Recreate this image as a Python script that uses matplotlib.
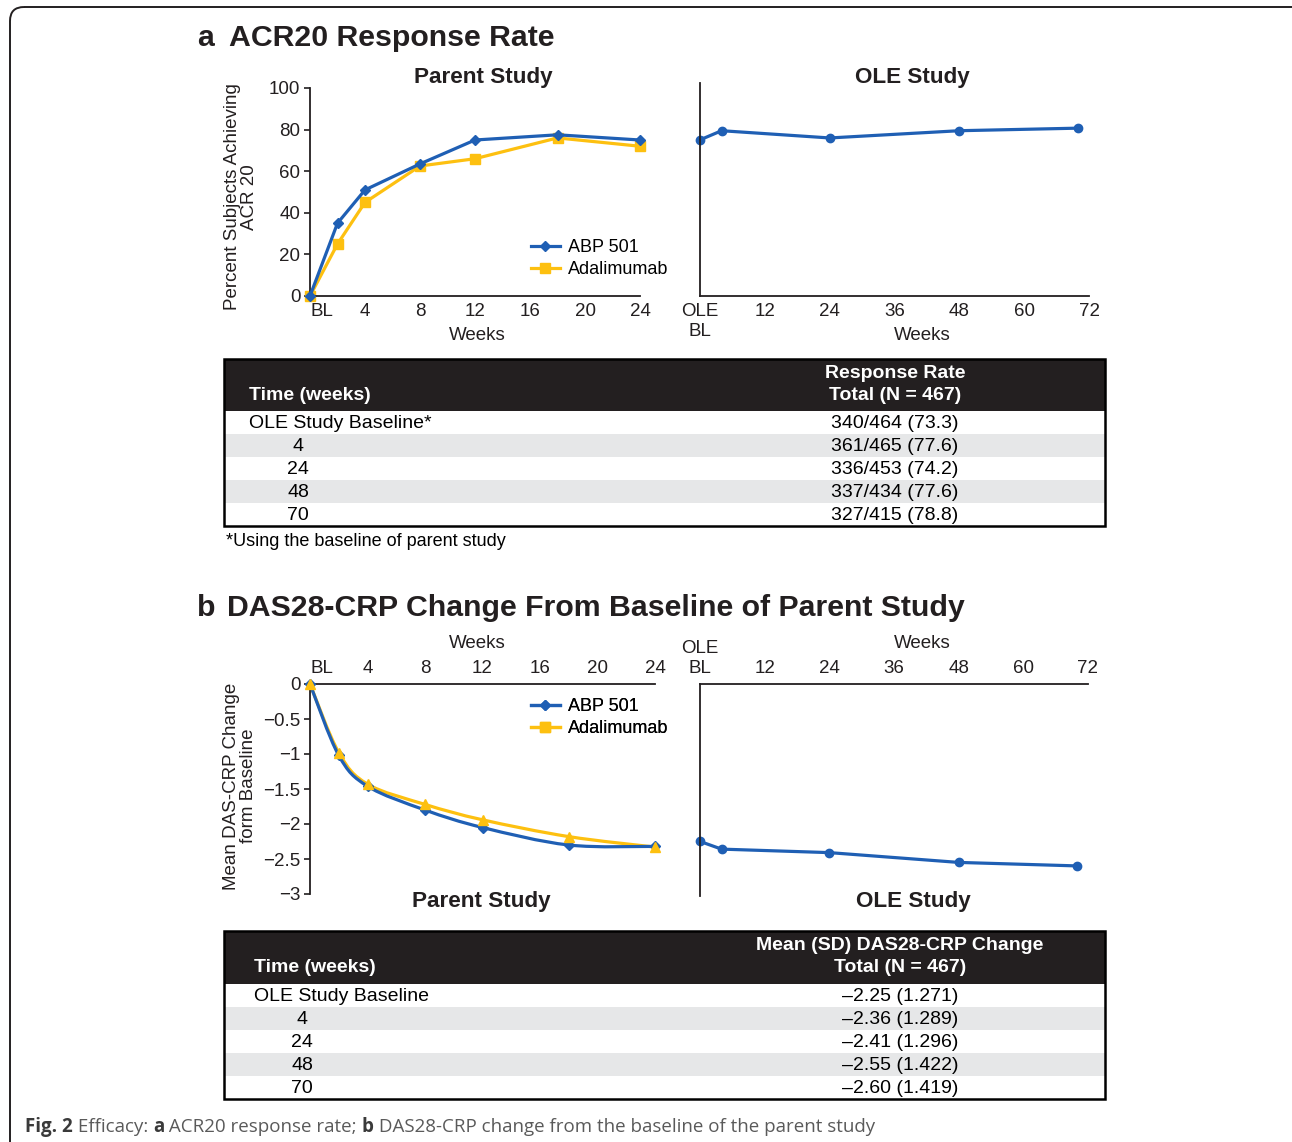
import numpy as np
import matplotlib
matplotlib.use("Agg")
import matplotlib.pyplot as plt
from matplotlib.path import Path
from matplotlib.patches import PathPatch, Rectangle, FancyBboxPatch
from matplotlib.lines import Line2D
from matplotlib.ticker import FuncFormatter

plt.rcParams['font.family'] = ['Liberation Sans', 'DejaVu Sans']

W, H = 1292, 1142
BLUE = '#1f5fb4'
YELLOW = '#fdc010'
INK = '#231f20'

# a: ACR20 response rate, parent study
parent_weeks = [0, 2, 4, 8, 12, 18, 24]
acr_abp = [0, 35, 51, 63.5, 75, 77.5, 75]
acr_ada = [0, 25, 45, 62.5, 66, 76, 72]

# a: ACR20, OLE study
ole_weeks = [0, 4, 24, 48, 70]
acr_ole = [73.3, 77.6, 74.2, 77.6, 78.8]
acr_resp = [340, 361, 336, 337, 327]
acr_total = [464, 465, 453, 434, 415]

# b: DAS28-CRP change from baseline, parent study
das_abp = [0, -1.02, -1.46, -1.80, -2.05, -2.30, -2.32]
das_ada = [0, -0.98, -1.43, -1.72, -1.94, -2.18, -2.33]

# b: DAS28-CRP, OLE study
das_ole = [-2.25, -2.36, -2.41, -2.55, -2.60]
das_ole_sd = [1.271, 1.289, 1.296, 1.422, 1.419]

row_labels_a = ['OLE Study Baseline*', '4', '24', '48', '70']
row_labels_b = ['OLE Study Baseline', '4', '24', '48', '70']

parent_ticks = [0, 4, 8, 12, 16, 20, 24]
ole_ticks = [0, 12, 24, 36, 48, 60, 72]


def box(l, t, r, b):
    return [l / W, 1 - b / H, (r - l) / W, (b - t) / H]


def smooth_line(ax, x, y, color, lw):
    # cubic bezier through the points (catmull-rom style)
    x = np.asarray(x, float)
    y = np.asarray(y, float)
    px = np.r_[x[0], x, x[-1]]
    py = np.r_[y[0], y, y[-1]]
    verts = [(x[0], y[0])]
    codes = [Path.MOVETO]
    for i in range(1, len(px) - 2):
        c1 = (px[i] + (px[i + 1] - px[i - 1]) / 6, py[i] + (py[i + 1] - py[i - 1]) / 6)
        c2 = (px[i + 1] - (px[i + 2] - px[i]) / 6, py[i + 1] - (py[i + 2] - py[i]) / 6)
        verts += [c1, c2, (px[i + 1], py[i + 1])]
        codes += [Path.CURVE4] * 3
    ax.add_patch(PathPatch(Path(verts, codes), fill=False, edgecolor=color,
                           lw=lw, clip_on=False, zorder=2))


def style_axes(ax, top=False, yticks=True):
    for s in ['right', 'top', 'bottom']:
        ax.spines[s].set_visible(False)
    ax.spines['top' if top else 'bottom'].set_visible(True)
    for s in ax.spines.values():
        s.set_linewidth(1.3)
        s.set_color(INK)
    ax.set_facecolor('none')
    if top:
        ax.xaxis.tick_top()
    ax.tick_params(axis='x', length=0, pad=5, labelsize=13.5, colors=INK)
    if yticks:
        ax.tick_params(axis='y', length=4, width=1.2, pad=3, labelsize=13.5, colors=INK)
    else:
        ax.set_yticks([])


fig = plt.figure(figsize=(W / 100, H / 100), dpi=100)
ov = fig.add_axes([0, 0, 1, 1])
ov.set_xlim(0, W)
ov.set_ylim(H, 0)
ov.axis('off')

ov.add_patch(FancyBboxPatch((10, 7), 1300, 1160, boxstyle='round,pad=0,rounding_size=14',
                            fill=False, lw=1.4, edgecolor=INK))

# panel titles
ov.text(197, 38, 'a', fontsize=21.8, fontweight='bold', va='center', color=INK)
ov.text(229, 38, 'ACR20 Response Rate', fontsize=21.8, fontweight='bold', va='center', color=INK)
ov.text(197, 608, 'b', fontsize=21.8, fontweight='bold', va='center', color=INK)
ov.text(227, 608, 'DAS28-CRP Change From Baseline of Parent Study', fontsize=21.8,
        fontweight='bold', va='center', color=INK)

sub = dict(fontsize=16.2, fontweight='bold', ha='center', va='center', color=INK)
ov.text(483, 78, 'Parent Study', **sub)
ov.text(912, 78, 'OLE Study', **sub)
ov.text(481, 902, 'Parent Study', **sub)
ov.text(913, 902, 'OLE Study', **sub)

lab = dict(fontsize=13.5, ha='center', va='center', color=INK)
ov.text(477, 336, 'Weeks', **lab)
ov.text(922, 336, 'Weeks', **lab)
ov.text(477, 643, 'Weeks', **lab)
ov.text(922, 643, 'Weeks', **lab)
ov.text(241, 197, 'Percent Subjects Achieving\nACR 20', rotation=90, linespacing=1.05, **lab)
ov.text(240, 786, 'Mean DAS-CRP Change\nform Baseline', rotation=90, linespacing=1.05, **lab)

# ---- a, parent study
ax1 = fig.add_axes(box(310, 88, 640, 296))
style_axes(ax1)
ax1.plot(parent_weeks, acr_abp, color=BLUE, lw=2.3, marker='D', ms=5, clip_on=False, zorder=3)
ax1.plot(parent_weeks, acr_ada, color=YELLOW, lw=2.3, marker='s', ms=7, clip_on=False, zorder=2)
ax1.set_xlim(0, 24)
ax1.set_ylim(0, 100)
ax1.set_yticks(range(0, 101, 20))
ax1.set_xticks(parent_ticks)
ax1.set_xticklabels(['BL'] + [str(t) for t in parent_ticks[1:]])
ax1.get_xticklabels()[0].set_ha('left')

# ---- a, OLE study
ax2 = fig.add_axes(box(700, 83, 1089, 296))
style_axes(ax2, yticks=False)
ax2.plot(ole_weeks, acr_ole, color=BLUE, lw=2.3, marker='o', ms=6, clip_on=False)
ax2.set_xlim(0, 72)
ax2.set_ylim(0, 100)
ax2.set_xticks(ole_ticks)
ax2.set_xticklabels(['OLE\nBL'] + [str(t) for t in ole_ticks[1:]])

# ---- b, parent study
ax3 = fig.add_axes(box(310, 684, 655, 894))
style_axes(ax3, top=True)
smooth_line(ax3, parent_weeks, das_ada, YELLOW, 2.3)
smooth_line(ax3, parent_weeks, das_abp, BLUE, 2.3)
ax3.plot(parent_weeks, das_abp, ls='none', color=BLUE, marker='D', ms=5, clip_on=False, zorder=3)
ax3.plot(parent_weeks, das_ada, ls='none', color=YELLOW, marker='^', ms=7, clip_on=False, zorder=4)
ax3.set_xlim(0, 24)
ax3.set_ylim(-3, 0)
ax3.set_yticks(np.arange(-3, 0.01, 0.5))
ax3.yaxis.set_major_formatter(FuncFormatter(lambda v, p: ('%g' % v).replace('-', '\u2212')))
ax3.set_xticks(parent_ticks)
ax3.set_xticklabels(['BL'] + [str(t) for t in parent_ticks[1:]])
ax3.get_xticklabels()[0].set_ha('left')

# ---- b, OLE study
ax4 = fig.add_axes(box(700, 684, 1088, 896))
style_axes(ax4, top=True, yticks=False)
ax4.plot(ole_weeks, das_ole, color=BLUE, lw=2.3, marker='o', ms=6, clip_on=False)
ax4.set_xlim(0, 72)
ax4.set_ylim(-3.03, 0)
ax4.set_xticks(ole_ticks)
ax4.set_xticklabels(['OLE\nBL'] + [str(t) for t in ole_ticks[1:]])

# legends
handles = [Line2D([], [], color=BLUE, lw=2.3, marker='D', ms=5, label='ABP 501'),
           Line2D([], [], color=YELLOW, lw=2.3, marker='s', ms=7, label='Adalimumab')]
for yy in (239, 698):
    ov.legend(handles=handles, loc='upper left', bbox_to_anchor=(531, yy),
              bbox_transform=ov.transData, frameon=False, fontsize=13,
              handlelength=1.6, handletextpad=0.45, labelspacing=0.28, borderpad=0,
              borderaxespad=0)
    ov.add_artist(ov.get_legend())

# ---- tables
TF = ['Liberation Sans Narrow', 'Liberation Sans', 'DejaVu Sans']


def draw_table(top, head_h, col1_x, num_x, val_x, head_lines, labels, values):
    x0, x1 = 224, 1105
    rh = 23
    ov.add_patch(Rectangle((x0, top), x1 - x0, head_h, color=INK, lw=0))
    y = top + head_h
    for i in range(len(labels)):
        fc = '#e6e7e8' if i % 2 else 'white'
        ov.add_patch(Rectangle((x0, y + i * rh), x1 - x0, rh, color=fc, lw=0))
        cy = y + i * rh + rh / 2 + 1
        if i == 0:
            ov.text(col1_x, cy, labels[i], family=TF, fontsize=14, va='center', color='black')
        else:
            ov.text(num_x, cy, labels[i], family=TF, fontsize=14, va='center', ha='center', color='black')
        ov.text(val_x, cy, values[i], family=TF, fontsize=14, va='center', ha='center', color='black')
    bottom = y + len(labels) * rh
    ov.add_patch(Rectangle((x0, top), x1 - x0, bottom - top, fill=False, lw=1.8, edgecolor='black'))
    ov.text(col1_x, top + head_h - 16, 'Time (weeks)', family=TF, fontsize=14,
            fontweight='bold', va='center', color='white')
    ov.text(val_x, top + head_h - 38, head_lines[0], family=TF, fontsize=14,
            fontweight='bold', va='center', ha='center', color='white')
    ov.text(val_x, top + head_h - 16, head_lines[1], family=TF, fontsize=14,
            fontweight='bold', va='center', ha='center', color='white')
    return bottom


vals_a = ['%d/%d (%.1f)' % (r, n, p) for r, n, p in zip(acr_resp, acr_total, acr_ole)]
vals_b = ['\u2013%.2f (%.3f)' % (abs(m), s) for m, s in zip(das_ole, das_ole_sd)]

draw_table(359, 52, 249, 298, 895, ['Response Rate', 'Total (N = 467)'], row_labels_a, vals_a)
ov.text(226, 542, '*Using the baseline of parent study', family=TF, fontsize=13,
        va='center', color='black')
draw_table(931, 53, 254, 302, 900, ['Mean (SD) DAS28-CRP Change', 'Total (N = 467)'],
           row_labels_b, vals_b)

# caption, bold pieces mixed in
pieces = [('Fig. 2', 'bold', '#3a3a3a'), (' Efficacy: ', 'normal', '#5a5a5a'),
          ('a', 'bold', '#3a3a3a'), (' ACR20 response rate; ', 'normal', '#5a5a5a'),
          ('b', 'bold', '#3a3a3a'),
          (' DAS28-CRP change from the baseline of the parent study', 'normal', '#5a5a5a')]
renderer = fig.canvas.get_renderer()
cx = 25
for txt, wt, col in pieces:
    t = ov.text(cx, 1127, txt, fontsize=13.5, fontweight=wt, color=col, va='center',
                family=['Open Sans', 'DejaVu Sans'])
    bb = t.get_window_extent(renderer)
    cx += bb.width

fig.savefig('out.png', dpi=100)
